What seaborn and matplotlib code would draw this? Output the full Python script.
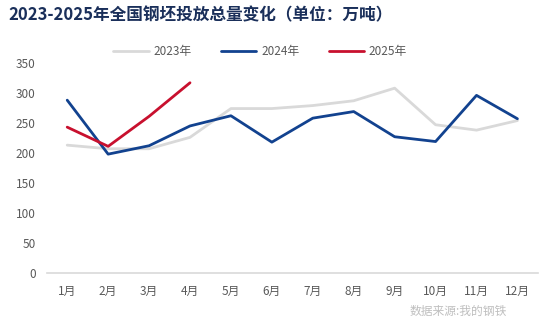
import matplotlib
matplotlib.use("Agg")
import matplotlib.pyplot as plt
import seaborn as sns
import pandas as pd
from matplotlib.lines import Line2D

months = ["1月", "2月", "3月", "4月", "5月", "6月", "7月", "8月", "9月", "10月", "11月", "12月"]
v2023 = [213, 207, 207, 226, 274, 274, 279, 287, 308, 247, 238, 254]
v2024 = [288, 198, 212, 245, 262, 218, 258, 269, 227, 219, 296, 257]
v2025 = [243, 211, 261, 317]
series_names = ["2023年", "2024年", "2025年"]
yticks = [0, 50, 100, 150, 200, 250, 300, 350]

rows = []
for name, vals in zip(series_names, [v2023, v2024, v2025]):
    for m, v in zip(months, vals):
        rows.append({"月份": m, "值": v, "年份": name})
df = pd.DataFrame(rows)

sns.set_theme(style="white")
plt.rcParams["font.family"] = ["Noto Sans CJK SC", "DejaVu Sans"]

fig = plt.figure(figsize=(5.5, 3.28), dpi=100)
ax = fig.add_axes([0.085, 0.168, 0.893, 0.64])

palette = {"2023年": "#d9d9d9", "2024年": "#12428f", "2025年": "#c8102e"}
sns.lineplot(data=df, x="月份", y="值", hue="年份", palette=palette,
             hue_order=series_names, sort=False, linewidth=2, ax=ax, legend=False)

ax.set_xlim(-0.5, 11.5)
ax.set_ylim(0, 350)
ax.set_yticks(yticks)
ax.set_xticks(range(len(months)))
ax.set_xticklabels(months)
ax.set_xlabel("")
ax.set_ylabel("")
for s in ["top", "right", "left"]:
    ax.spines[s].set_visible(False)
ax.spines["bottom"].set_color("#d9d9d9")
ax.spines["bottom"].set_linewidth(1.2)
ax.tick_params(axis="both", length=0, labelsize=8.5, labelcolor="#595959")
ax.tick_params(axis="x", pad=9)
ax.tick_params(axis="y", pad=8)

handles = [Line2D([0], [0], color=palette[n], lw=2) for n in series_names]
fig.legend(handles, series_names, loc="center", ncol=3, bbox_to_anchor=(0.473, 0.842),
           frameon=False, fontsize=8.5, labelcolor="#595959", handlelength=3.0,
           columnspacing=2.5, handletextpad=0.4)

fig.text(0.015, 0.952, "2023-2025年全国钢坯投放总量变化（单位：万吨）", fontsize=12,
         fontweight="bold", color="#1a2f5a", va="center", ha="left")
fig.text(0.922, 0.05, "数据来源:我的钢铁", fontsize=8.5, color="#bfbfbf",
         ha="right", va="center")

fig.savefig("out.png", dpi=100)
